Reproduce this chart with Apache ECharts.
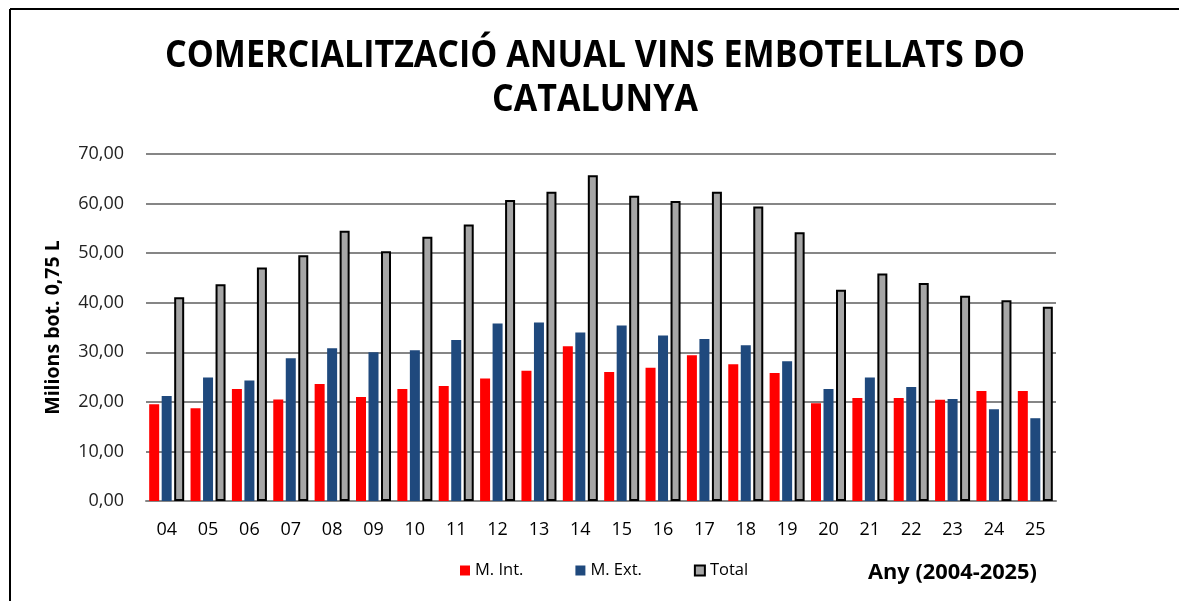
<!DOCTYPE html>
<html>
<head>
<meta charset="utf-8">
<script src="https://cdn.jsdelivr.net/npm/echarts@6/dist/echarts.min.js"></script>
<style>
  html, body { margin: 0; padding: 0; background: #fff; }
  #chart { width: 1179px; height: 601px; }
</style>
</head>
<body>
<div id="chart"></div>
<script>
const categories = ['04','05','06','07','08','09','10','11','12','13','14','15','16','17','18','19','20','21','22','23','24','25'];
const mInt = [19.5, 18.7, 22.6, 20.5, 23.6, 21.0, 22.6, 23.2, 24.7, 26.3, 31.2, 26.0, 26.9, 29.4, 27.6, 25.8, 19.7, 20.8, 20.8, 20.4, 22.2, 22.2];
const mExt = [21.2, 24.9, 24.3, 28.8, 30.8, 30.0, 30.4, 32.5, 35.8, 36.0, 34.0, 35.4, 33.4, 32.7, 31.4, 28.2, 22.6, 24.9, 23.0, 20.6, 18.5, 16.7];
const total = [41.1, 43.7, 47.1, 49.6, 54.5, 50.4, 53.3, 55.8, 60.7, 62.4, 65.7, 61.6, 60.5, 62.4, 59.4, 54.2, 42.6, 45.9, 44.0, 41.4, 40.5, 39.2];
const seriesNames = ['M. Int.', 'M. Ext.', 'Total'];
const titleLines = ['COMERCIALITZACIÓ ANUAL VINS EMBOTELLATS DO', 'CATALUNYA'];
const yAxisName = 'Milions bot. 0,75 L';
const xAxisName = 'Any (2004-2025)';

const baseFont = '"Open Sans", "Noto Sans", sans-serif';
const titleFontSize = 37;
const titleFont = 'bold ' + titleFontSize + 'px "Open Sans", sans-serif';
// horizontal condensation so that title line 1 spans ~860px like the reference
const ctx = document.createElement('canvas').getContext('2d');
ctx.font = titleFont;
const titleScaleX = 860 / ctx.measureText(titleLines[0]).width;

const chart = echarts.init(document.getElementById('chart'), null, { renderer: 'canvas' });
chart.setOption({
  backgroundColor: '#ffffff',
  animation: false,
  title: [{
    text: xAxisName,
    left: 863,
    top: 557,
    textStyle: { fontFamily: baseFont, fontWeight: 'bold', fontSize: 21.8, color: '#000' }
  }],
  legend: {
    data: seriesNames,
    left: 455,
    top: 557,
    icon: 'rect',
    itemWidth: 10,
    itemHeight: 10,
    itemGap: 52,
    textStyle: { fontFamily: baseFont, fontSize: 16.5, color: '#000' }
  },
  grid: { left: 146, right: 123, top: 154, bottom: 100, containLabel: false },
  xAxis: {
    type: 'category',
    data: categories,
    axisLine: { show: true, lineStyle: { color: '#868686', width: 2 } },
    axisTick: { show: false },
    axisLabel: { fontFamily: baseFont, fontSize: 18, color: '#000', margin: 20 }
  },
  yAxis: {
    type: 'value',
    min: 0,
    max: 70,
    interval: 10,
    name: yAxisName,
    nameLocation: 'middle',
    nameGap: 83,
    nameTextStyle: { fontFamily: baseFont, fontWeight: 'bold', fontSize: 19.5, color: '#000' },
    axisLine: { show: false },
    axisTick: { show: false },
    splitLine: { lineStyle: { color: '#868686', width: 2 } },
    axisLabel: {
      fontFamily: baseFont, fontSize: 18, color: '#222', margin: 22,
      formatter: v => v.toFixed(2).replace('.', ',')
    }
  },
  series: [
    { name: seriesNames[0], type: 'bar', data: mInt, barWidth: 10, barGap: '25%',
      itemStyle: { color: '#ff0000' } },
    { name: seriesNames[1], type: 'bar', data: mExt, barWidth: 10, barGap: '25%',
      itemStyle: { color: '#1f497d' } },
    { name: seriesNames[2], type: 'bar', data: total, barWidth: 10, barGap: '25%',
      itemStyle: { color: '#a6a6a6', borderColor: '#000', borderWidth: 2 } }
  ],
  graphic: [
    { type: 'line', shape: { x1: 10, y1: 9, x2: 1179, y2: 9 }, style: { stroke: '#000', lineWidth: 2 } },
    { type: 'line', shape: { x1: 10, y1: 9, x2: 10, y2: 601 }, style: { stroke: '#000', lineWidth: 2 } },
    { type: 'text', x: 595, y: 56, scaleX: titleScaleX,
      style: { text: titleLines[0], font: titleFont, fill: '#000', align: 'center', verticalAlign: 'middle' } },
    { type: 'text', x: 595, y: 100, scaleX: titleScaleX,
      style: { text: titleLines[1], font: titleFont, fill: '#000', align: 'center', verticalAlign: 'middle' } }
  ]
});
</script>
</body>
</html>
